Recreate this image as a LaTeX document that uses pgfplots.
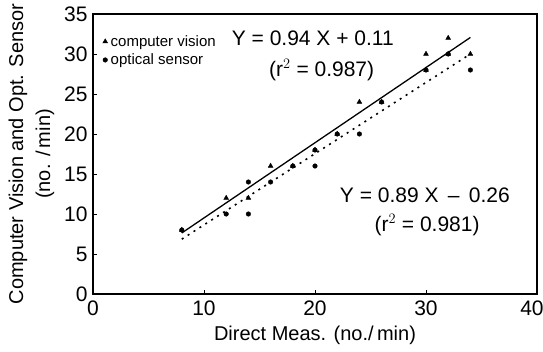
\documentclass[border=0pt]{standalone}
\usepackage{pgfplots}
\pgfplotsset{compat=1.18}
\usepackage{fontspec}
\setmainfont{Liberation Sans}
\begin{document}
\begin{tikzpicture}[x=1pt,y=1pt]
\useasboundingbox (0,0) rectangle (543,351);
\begin{axis}[
  at={(93pt,57pt)}, anchor=south west,
  scale only axis, width=444pt, height=280pt,
  xmin=0, xmax=40, ymin=0, ymax=35,
  xtick={0,10,20,30}, ytick={0,5,10,15,20,25,30,35},
  extra x ticks={40},
  extra x tick style={xticklabel style={xshift=-5pt}},
  tick pos=left, tick align=inside, major tick length=4pt,
  axis line style={line width=1.3pt},
  tick style={line width=1pt, black},
  /pgf/number format/assume math mode=true,
  ticklabel style={font=\fontsize{21}{24}\selectfont},
  xticklabel style={yshift=-3pt},
  yticklabel style={xshift=-2pt},
  xlabel={Direct Meas. (no./\,min)},
  xlabel style={font=\fontsize{20}{24}\selectfont, yshift=-4pt},
  ylabel={\begin{tabular}{c}Computer Vision and Opt. Sensor\\[3pt](no. /\,min)\end{tabular}},
  ylabel style={font=\fontsize{20}{24}\selectfont, yshift=0pt},
  legend style={draw=none, fill=none, at={(0.018,0.935)}, anchor=north west,
    font=\fontsize{15}{18}\selectfont, row sep=2pt, inner sep=1pt},
  legend cell align=left,
  legend image code/.code={\draw[#1] (0pt,0pt) plot coordinates {(0.1cm,0cm)};},
]
\addplot[only marks, mark=triangle*, mark size=2.8pt, black] coordinates {
 (8,8) (12,12) (14,12) (16,16) (18,16) (20,18) (22,20) (24,24) (26,24)
 (30,30) (30,28) (32,32) (32,30) (34,30)
};
\addlegendentry{\hspace{1pt}computer vision}
\addplot[only marks, mark=*, mark size=2.3pt, black] coordinates {
 (8,8) (12,10) (14,10) (14,14) (16,14) (18,16) (20,16) (20,18) (22,20)
 (24,20) (26,24) (30,28) (32,30) (34,28)
};
\addlegendentry{\hspace{1pt}optical sensor}
\addplot[black, line width=1.3pt, forget plot] coordinates {(8,7.63) (34,32.07)};
\addplot[black, line width=1.6pt, dash pattern=on 2pt off 5pt, forget plot] coordinates {(8,6.86) (34,30.00)};
\node[font=\fontsize{21}{25}\selectfont] at (axis cs:19.8,32) {Y = 0.94 X + 0.11};
\node[font=\fontsize{21}{25}\selectfont] at (axis cs:20.6,28) {(r$^{2}$ = 0.987)};
\node[font=\fontsize{21}{25}\selectfont] at (axis cs:29.9,12.4) {Y = 0.89 X \,\textendash\, 0.26};
\node[font=\fontsize{21}{25}\selectfont] at (axis cs:30.1,8.6) {(r$^{2}$ = 0.981)};
\end{axis}
\end{tikzpicture}
\end{document}
